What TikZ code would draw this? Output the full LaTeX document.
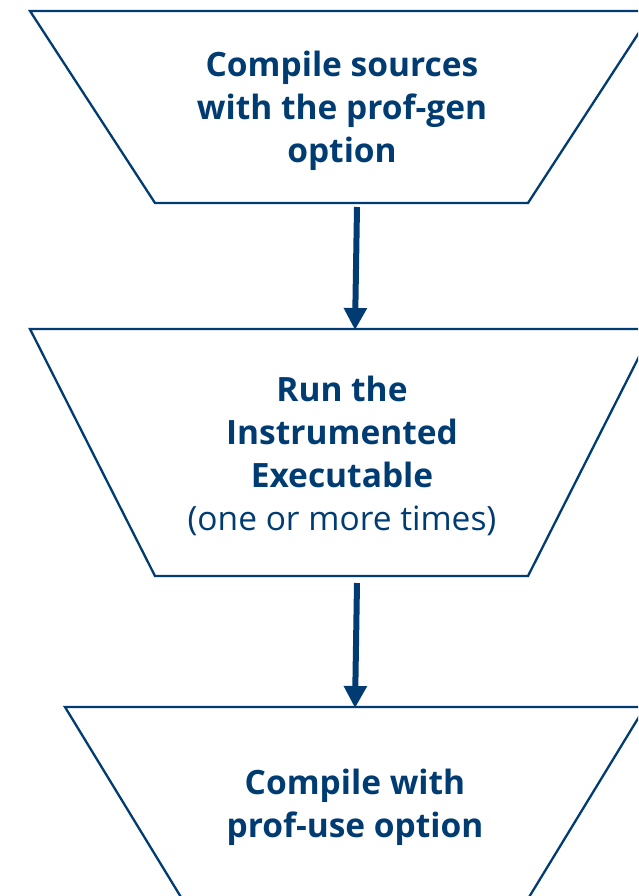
\documentclass[tikz,border=0pt]{standalone}
\usepackage{fontspec}
\setmainfont{Open Sans}
\usepackage{tikz}
\usetikzlibrary{arrows.meta}
\definecolor{pgoblue}{HTML}{003C71}
\tikzset{
    x=1pt,
    y=-1pt,
    stage/.style = {
        draw=pgoblue,
        line width=2.3pt,
        line join=miter
    },
    label/.style = {
        align=center,
        text=pgoblue,
        inner sep=0pt,
        font=\fontsize{33.5}{43}\selectfont\bfseries
    },
    flow/.style = {
        draw=pgoblue,
        line width=6pt
    },
    >={Triangle[length=22pt,width=22pt]},
}

\begin{document}
\begin{tikzpicture}
                \useasboundingbox (0,0) rectangle (638,896);
                \clip (0,0) rectangle (638,896);

                \path[stage] (30,11) -- (653,11) -- (528,203) -- (155,203) -- cycle;
                \path[stage] (30,329) -- (653,329) -- (528,576) -- (155,576) -- cycle;
                \path[stage] (65,707) -- (645,707) -- (523,907) -- (187,907) -- cycle;

                \node[label] (gen) at (342,111) {Compile sources\\with the prof-gen\\option};
                \node[label] (run) at (342,455.5) {Run the\\Instrumented\\Executable\\{\mdseries (one or more times)}};
                \node[label] (use) at (355,807) {Compile with\\prof-use option};

                \coordinate (genout) at (357,207);
                \coordinate (runin) at (355,330);
                \coordinate (runout) at (357,583);
                \coordinate (usein) at (355,708);

                \path[flow, ->] (genout) -- (runin);
                \path[flow, ->] (runout) -- (usein);
\end{tikzpicture}
\end{document}
